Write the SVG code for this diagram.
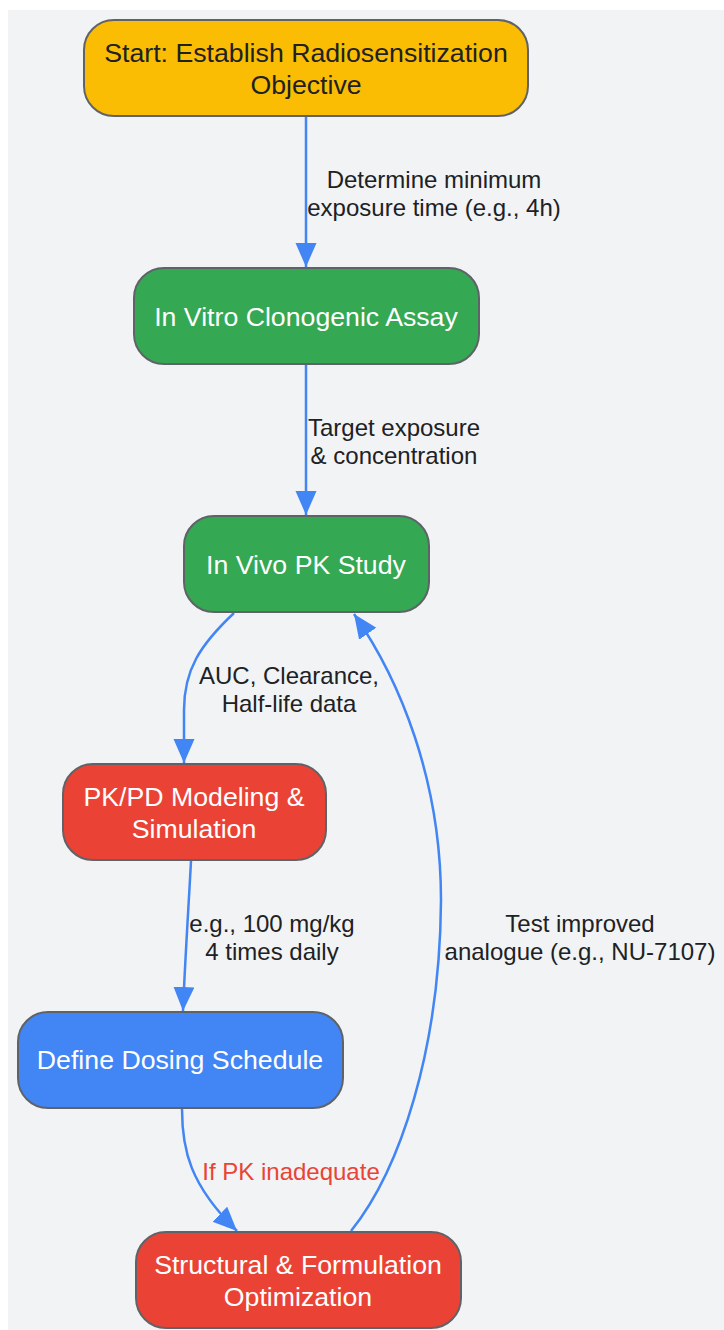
<svg xmlns="http://www.w3.org/2000/svg" width="724" height="1330" viewBox="0 0 724 1330">
<style>
.node rect{stroke:#5f6368;stroke-width:2}
.nt{font-family:"Liberation Sans",Arial,sans-serif;font-size:26.7px;text-anchor:middle}
.lt{font-family:"Liberation Sans",Arial,sans-serif;font-size:24px;text-anchor:middle;fill:#202124}
.edge{fill:none;stroke:#4285F4;stroke-width:2.5}
</style>
<defs>
<marker id="ah" markerUnits="userSpaceOnUse" markerWidth="26" markerHeight="22" refX="24" refY="10.5" orient="auto">
<path d="M0,0 L24,10.5 L0,21 z" fill="#4285F4"/>
</marker>
</defs>
<rect x="0" y="0" width="724" height="1330" fill="#ffffff"/>
<rect x="8" y="10" width="716" height="1320" fill="#F1F3F4"/>
<g id="connectors">
<path class="edge" d="M306,117 L306,267" marker-end="url(#ah)"/>
<path class="edge" d="M306,365 L306,515" marker-end="url(#ah)"/>
<path class="edge" d="M234,613 C200,645 184,670 184,710 L184,763" marker-end="url(#ah)"/>
<path class="edge" d="M191,861 C189,900 185,960 183,1011" marker-end="url(#ah)"/>
<path class="edge" d="M182,1109 C182,1150 190,1185 237,1231" marker-end="url(#ah)"/>
<path class="edge" d="M351,1231 C400,1170 440,1050 441,900 C441,780 400,680 354,614" marker-end="url(#ah)"/>
<text class="lt" x="434" y="188">Determine minimum</text>
<text class="lt" x="434" y="216">exposure time (e.g., 4h)</text>
<text class="lt" x="394" y="436">Target exposure</text>
<text class="lt" x="394" y="464">&amp; concentration</text>
<text class="lt" x="289" y="684">AUC, Clearance,</text>
<text class="lt" x="289" y="712">Half-life data</text>
<text class="lt" x="272" y="932">e.g., 100 mg/kg</text>
<text class="lt" x="272" y="960">4 times daily</text>
<text class="lt" x="291" y="1180" style="fill:#EA4335">If PK inadequate</text>
<text class="lt" x="580" y="932">Test improved</text>
<text class="lt" x="580" y="960">analogue (e.g., NU-7107)</text>
</g>
<g id="start" class="node">
<rect x="84" y="20" width="444" height="96" rx="30" fill="#FBBC04"/>
<text class="nt" x="306" y="62" fill="#202124">Start: Establish Radiosensitization</text>
<text class="nt" x="306" y="94" fill="#202124">Objective</text>
</g>
<g id="invitro" class="node">
<rect x="134" y="268" width="345" height="96" rx="30" fill="#34A853"/>
<text class="nt" x="306" y="326" fill="#ffffff">In Vitro Clonogenic Assay</text>
</g>
<g id="invivo" class="node">
<rect x="184" y="516" width="245" height="96" rx="30" fill="#34A853"/>
<text class="nt" x="306" y="574" fill="#ffffff">In Vivo PK Study</text>
</g>
<g id="pkpd" class="node">
<rect x="63" y="764" width="263" height="96" rx="30" fill="#EA4335"/>
<text class="nt" x="194" y="806" fill="#ffffff">PK/PD Modeling &amp;</text>
<text class="nt" x="194" y="838" fill="#ffffff">Simulation</text>
</g>
<g id="dosing" class="node">
<rect x="18" y="1012" width="325" height="96" rx="30" fill="#4285F4"/>
<text class="nt" x="180" y="1069" fill="#ffffff">Define Dosing Schedule</text>
</g>
<g id="optim" class="node">
<rect x="136" y="1232" width="325" height="96" rx="30" fill="#EA4335"/>
<text class="nt" x="298" y="1274" fill="#ffffff">Structural &amp; Formulation</text>
<text class="nt" x="298" y="1306" fill="#ffffff">Optimization</text>
</g>
</svg>
